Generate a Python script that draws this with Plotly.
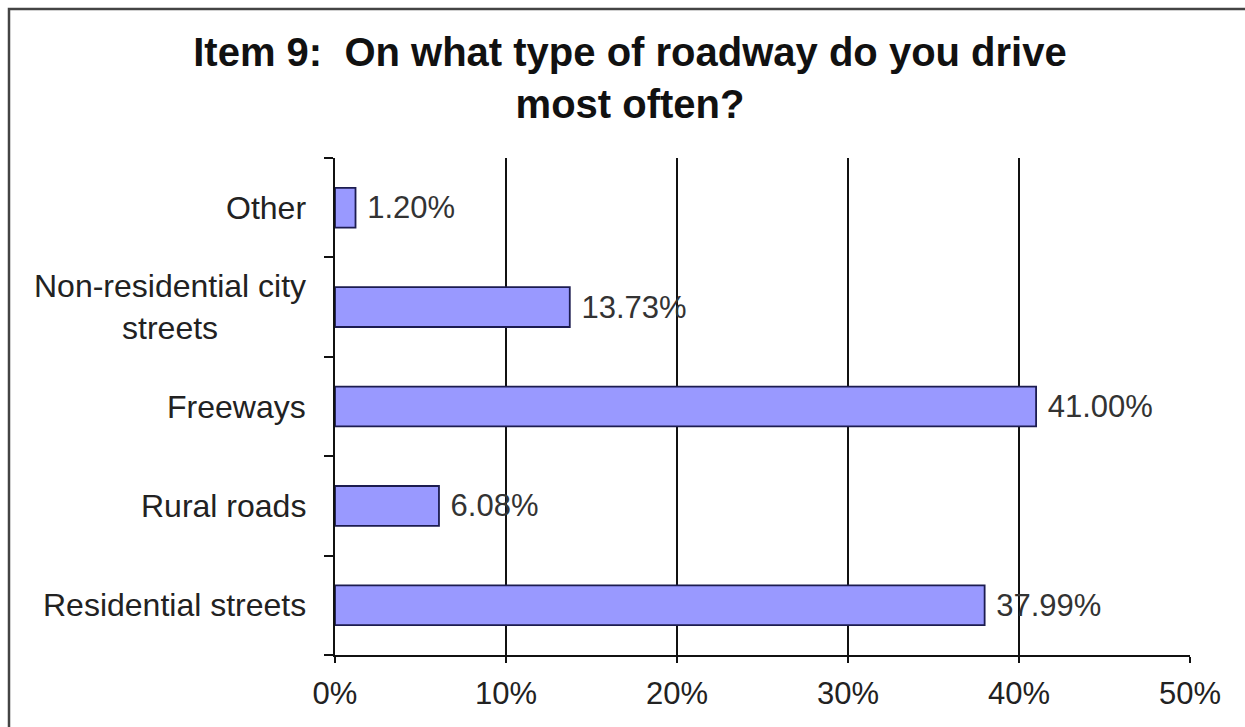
import plotly.graph_objects as go

# Survey responses, listed bottom-to-top as drawn on the category axis
categories = ["Residential streets", "Rural roads", "Freeways",
              "Non-residential city streets", "Other"]
category_labels = ["Residential streets", "Rural roads", "Freeways",
                   "Non-residential city<br>streets", "Other"]
shares = [37.99, 6.08, 41.00, 13.73, 1.20]
x_ticks = [0, 10, 20, 30, 40, 50]
x_tick_text = ["0%", "10%", "20%", "30%", "40%", "50%"]

FONT = "Liberation Sans, Arial, sans-serif"
W, H = 1245, 727
L, R, T, B = 335, 55, 158, 72
pw, ph = W - L - R, H - T - B

fig = go.Figure(go.Bar(
    y=categories,
    x=shares,
    orientation="h",
    marker=dict(color="#9999FF", line=dict(color="#1c1c50", width=1.8)),
    text=[f" {v:.2f}%" for v in shares],
    textposition="outside",
    textfont=dict(family=FONT, size=31, color="#333333"),
    cliponaxis=False,
    hoverinfo="skip",
))

# Category names as centred multi-line labels left of the axis
annotations = [
    dict(x=(308 - L) / pw, xref="paper", y=c, yref="y", text=lab,
         xanchor="right", yanchor="middle", align="center", showarrow=False,
         font=dict(family=FONT, size=32, color="#222222"))
    for c, lab in zip(categories, category_labels)
]

fig.update_layout(
    width=W, height=H,
    margin=dict(l=L, r=R, t=T, b=B),
    paper_bgcolor="white", plot_bgcolor="white",
    showlegend=False,
    bargap=0.6,
    title=dict(
        text="<b>Item 9:  On what type of roadway do you drive<br>most often?</b>",
        x=630 / W, xanchor="center", xref="container",
        y=1 - 66 / H, yanchor="top", yref="container",
        font=dict(family=FONT, size=40, color="#111111"),
    ),
    annotations=annotations,
    shapes=[dict(type="rect", xref="paper", yref="paper",
                 x0=(9 - L) / pw, x1=(1260 - L) / pw,
                 y0=(H - B - 740) / ph, y1=(H - B - 9) / ph,
                 line=dict(color="#444444", width=2.5), fillcolor="rgba(0,0,0,0)",
                 layer="below")],
)

fig.update_xaxes(
    range=[0, 50], tickvals=x_ticks, ticktext=x_tick_text,
    showgrid=True, gridcolor="#111111", gridwidth=1.5,
    showline=True, linecolor="#111111", linewidth=1.5,
    zeroline=False,
    ticks="outside", ticklen=6, tickcolor="#111111", tickwidth=1.5,
    ticklabelstandoff=4,
    tickfont=dict(family=FONT, size=31, color="#222222"),
    fixedrange=True,
)
fig.update_yaxes(
    categoryorder="array", categoryarray=categories,
    showticklabels=False,
    showline=True, linecolor="#111111", linewidth=1.5,
    ticks="outside", tickson="boundaries", ticklen=9,
    tickcolor="#111111", tickwidth=1.5,
    showgrid=False, fixedrange=True,
)

fig.write_html("out.html", config={"displayModeBar": False})
